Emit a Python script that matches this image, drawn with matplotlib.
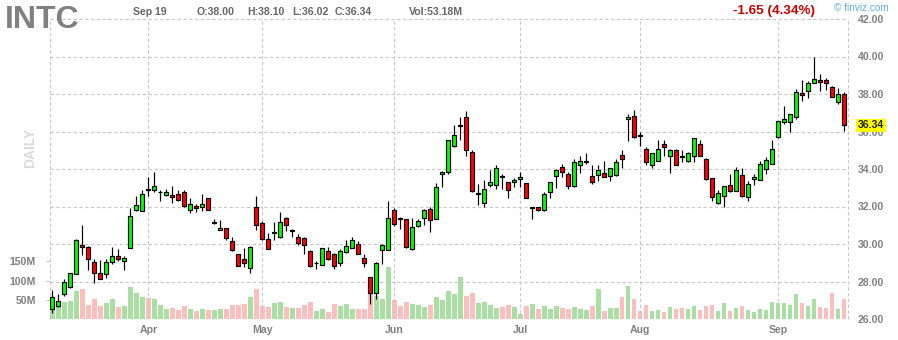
import numpy as np
import pandas as pd
import matplotlib
matplotlib.use("Agg")
import matplotlib.pyplot as plt

plt.rcParams['font.family'] = ['Liberation Sans', 'DejaVu Sans']

TICKER = "INTC"
HOLIDAYS = ["2023-04-07", "2023-05-29", "2023-06-19", "2023-07-04", "2023-09-04"]
dates = pd.bdate_range("2023-03-10", "2023-09-19", freq="C", holidays=HOLIDAYS)

opens = [26.56, 26.72, 27.36, 27.72, 28.38, 29.94, 29.82, 29.02, 28.48, 28.38,
         29.02, 29.34, 29.07, 29.77, 31.83, 31.78, 32.93, 32.86, 32.76, 32.59,
         32.59, 32.65, 32.75, 31.79, 32.01, 31.95, 32.43, 31.13, 30.73, 30.83,
         30.16, 29.46, 29.19, 28.74, 31.95, 31.11, 30.29, 30.59, 30.36, 31.38,
         30.67, 30.35, 30.31, 29.62, 28.97, 28.90, 29.60, 29.49, 29.01, 29.60,
         29.81, 30.02, 29.28, 28.26, 27.41, 29.70, 29.69, 31.79, 31.38, 31.31,
         29.74, 30.98, 31.41, 31.89, 31.36, 33.76, 33.86, 35.25, 36.31, 36.75,
         34.88, 32.66, 32.21, 33.17, 33.17, 33.62, 33.33, 33.33, 33.49, 33.28,
         31.92, 32.00, 31.84, 32.80, 33.65, 34.13, 33.76, 33.12, 34.24, 34.35,
         33.65, 33.70, 33.81, 33.65, 33.70, 34.77, 36.69, 36.85, 35.81, 35.09,
         34.24, 34.45, 35.36, 34.67, 34.99, 34.69, 34.45, 34.67, 35.36, 34.51,
         33.54, 32.21, 32.58, 33.17, 32.85, 33.69, 32.53, 33.48, 33.42, 34.01,
         34.28, 35.72, 36.52, 36.52, 36.79, 38.07, 38.18, 38.61, 38.77, 38.77,
         38.40, 37.59, 38.00]
highs = [27.54, 27.33, 28.13, 28.48, 30.26, 31.01, 29.87, 29.20, 29.14, 29.20,
         29.85, 29.73, 29.34, 31.90, 32.54, 32.88, 33.56, 33.82, 32.86, 32.93,
         33.07, 32.86, 32.86, 32.43, 32.11, 32.65, 32.43, 31.33, 31.28, 30.83,
         30.35, 29.46, 29.81, 29.90, 32.57, 31.23, 30.58, 31.15, 31.70, 31.45,
         30.81, 30.52, 30.40, 29.67, 29.10, 29.81, 29.86, 29.54, 29.72, 30.24,
         30.35, 30.17, 29.49, 28.26, 29.06, 30.02, 32.27, 31.94, 31.46, 31.31,
         31.41, 31.36, 31.89, 32.00, 33.28, 33.92, 35.57, 36.37, 36.75, 37.07,
         35.04, 33.22, 33.44, 33.97, 34.19, 33.76, 33.33, 33.54, 33.86, 33.28,
         32.00, 32.00, 32.80, 33.33, 34.02, 34.29, 33.86, 34.56, 34.67, 34.83,
         34.19, 34.24, 34.45, 34.08, 34.51, 34.99, 36.96, 37.17, 35.95, 35.15,
         34.83, 35.52, 35.52, 35.09, 35.09, 35.04, 34.93, 35.68, 35.57, 34.61,
         33.54, 32.90, 33.12, 33.76, 34.13, 34.06, 33.37, 33.74, 34.44, 34.65,
         35.56, 36.58, 37.38, 36.95, 38.29, 38.77, 38.72, 40.00, 39.09, 38.88,
         38.45, 38.34, 38.10]
lows = [26.30, 26.62, 27.24, 27.67, 28.38, 29.44, 28.64, 27.93, 28.11, 28.20,
        28.91, 29.07, 28.63, 29.77, 31.78, 31.74, 32.54, 32.75, 32.29, 32.54,
        32.17, 32.27, 31.95, 31.63, 31.69, 31.78, 31.79, 31.06, 30.73, 30.19,
        29.61, 28.83, 28.80, 28.48, 30.75, 30.22, 29.74, 30.20, 30.31, 30.70,
        30.40, 29.97, 29.46, 28.80, 28.69, 28.90, 29.14, 28.67, 28.85, 29.54,
        29.81, 29.49, 28.80, 26.82, 27.09, 28.96, 29.69, 30.96, 30.80, 29.79,
        29.68, 30.93, 31.04, 30.66, 31.36, 33.06, 33.76, 35.20, 35.57, 34.67,
        32.80, 32.10, 32.00, 33.06, 32.96, 32.96, 32.44, 33.06, 33.06, 32.48,
        31.36, 31.78, 31.78, 32.48, 33.01, 33.60, 32.96, 33.06, 33.81, 34.29,
        33.22, 33.38, 33.60, 33.38, 33.65, 34.08, 35.47, 35.63, 35.25, 34.24,
        34.08, 34.45, 34.72, 33.81, 34.19, 34.40, 34.35, 34.40, 34.72, 33.44,
        32.32, 32.16, 32.00, 32.80, 32.85, 32.50, 32.28, 33.16, 33.42, 33.74,
        34.28, 35.67, 36.42, 35.99, 36.68, 37.65, 37.81, 38.61, 38.18, 38.24,
        37.86, 37.49, 36.02]
closes = [27.20, 26.94, 28.00, 28.43, 30.21, 29.82, 29.18, 28.43, 28.11, 29.02,
          29.34, 29.18, 29.28, 31.51, 32.06, 32.65, 32.88, 33.07, 32.80, 32.80,
          32.49, 32.33, 32.01, 32.11, 31.90, 32.11, 31.79, 31.17, 30.83, 30.30,
          29.66, 28.85, 29.01, 29.86, 31.04, 30.27, 29.74, 30.63, 31.20, 30.99,
          30.77, 30.08, 29.97, 28.85, 29.01, 29.81, 29.22, 28.85, 29.65, 29.92,
          30.24, 29.49, 29.01, 27.41, 29.01, 29.97, 31.41, 31.09, 31.33, 29.84,
          30.93, 31.25, 31.79, 31.30, 33.06, 33.86, 35.57, 35.79, 36.36, 34.99,
          32.85, 32.71, 32.96, 33.33, 34.08, 33.58, 32.90, 33.44, 33.60, 32.48,
          31.96, 31.84, 32.69, 33.28, 33.97, 33.86, 33.12, 34.35, 34.45, 34.45,
          33.33, 33.97, 33.60, 34.08, 34.35, 34.51, 36.80, 35.73, 35.77, 34.35,
          34.83, 35.09, 35.20, 34.99, 34.24, 34.65, 34.88, 35.63, 34.72, 33.49,
          32.53, 32.74, 33.12, 32.85, 33.97, 32.57, 33.21, 33.58, 34.28, 34.49,
          35.08, 36.58, 36.68, 36.95, 38.13, 37.97, 38.56, 38.82, 38.66, 38.61,
          37.86, 37.99, 36.34]
# volume in millions of shares
volumes = [57, 44, 44, 46, 72, 77, 36, 51, 33, 41,
           51, 31, 33, 82, 67, 56, 54, 51, 36, 26,
           28, 23, 33, 26, 21, 26, 23, 23, 26, 26,
           36, 36, 38, 56, 77, 33, 31, 41, 44, 31,
           28, 28, 36, 44, 21, 26, 18, 38, 33, 38,
           26, 26, 26, 66, 60, 51, 134, 49, 33, 44,
           38, 36, 31, 36, 56, 49, 72, 64, 108, 61,
           67, 41, 44, 36, 28, 31, 36, 31, 13, 33,
           38, 26, 33, 26, 33, 28, 26, 31, 26, 23,
           33, 77, 21, 28, 28, 56, 87, 51, 21, 36,
           21, 23, 18, 31, 26, 28, 26, 33, 23, 33,
           36, 21, 41, 21, 28, 34, 24, 19, 26, 24,
           44, 42, 42, 37, 65, 42, 34, 52, 32, 29,
           67, 26, 53.18]

price_ticks = [26, 28, 30, 32, 34, 36, 38, 40, 42]
vol_ticks = [50, 100, 150]

GRID = "#c8c8c8"
LABEL = "#808080"
DASH = (0, (3, 2.2))

o = np.array(opens)
h = np.array(highs)
l = np.array(lows)
c = np.array(closes)
x = np.arange(len(dates))
up = c >= o

body_col = np.where(up, "#00ff00", "#ff0000")
vol_col = np.where(up, "#a9dfa3", "#ffbebe")

fig = plt.figure(figsize=(8.98, 3.40), dpi=100)
ax = fig.add_axes([50 / 898, 21 / 340, 798.3 / 898, 300 / 340])
axv = ax.twinx()
ax.set_zorder(axv.get_zorder() + 1)
ax.patch.set_visible(False)

# volume (bottom layer)
axv.bar(x, volumes, width=0.8, color=vol_col, linewidth=0)
axv.set_ylim(0, 780)
axv.yaxis.set_ticks_position("left")
axv.set_yticks(vol_ticks)
axv.set_yticklabels([f"{v}M" for v in vol_ticks])
axv.tick_params(axis="y", length=3, width=0.8, color=GRID, pad=7,
                labelsize=7.6, labelcolor=LABEL)
for lbl in axv.get_yticklabels():
    lbl.set_fontweight("bold")

# grid
for lvl in price_ticks[1:]:
    ax.axhline(lvl, color=GRID, lw=0.8, linestyle=DASH, zorder=0, clip_on=False)

month_start = [i for i in range(1, len(dates)) if dates[i].month != dates[i - 1].month]
for m in month_start:
    ax.axvline(m, color=GRID, lw=0.8, linestyle=DASH, zorder=0)

ax.set_xlim(-0.4, len(dates) - 1 + 0.72)
ax.set_ylim(price_ticks[0], price_ticks[-1])
for edge in ax.get_xlim():
    ax.axvline(edge, color=GRID, lw=0.8, linestyle=DASH, zorder=0, clip_on=False)

# candles
ax.vlines(x, l, h, color="black", lw=0.85, zorder=2)
ax.bar(x, np.maximum(np.abs(c - o), 0.015), bottom=np.minimum(o, c), width=0.65,
       color=body_col, edgecolor="black", linewidth=0.85, zorder=3)

ax.yaxis.tick_right()
ax.set_yticks(price_ticks)
ax.set_yticklabels([f"{p:.2f}" for p in price_ticks])
ax.tick_params(axis="y", length=0, pad=7, labelsize=7.6, labelcolor=LABEL)
ax.set_xticks(month_start)
ax.set_xticklabels([dates[m].strftime("%b") for m in month_start])
ax.tick_params(axis="x", length=0, pad=4, labelsize=7.6, labelcolor=LABEL)
for lbl in ax.get_yticklabels() + ax.get_xticklabels():
    lbl.set_fontweight("bold")

for a in (ax, axv):
    for s in a.spines.values():
        s.set_visible(False)

# last price tag
ax.annotate(f"{closes[-1]:.2f}", xy=(1, closes[-1]), xycoords=("axes fraction", "data"),
            xytext=(6.8, 0), textcoords="offset points", ha="left", va="center",
            fontsize=7.6, fontweight="bold", color="#222222", zorder=10,
            bbox=dict(boxstyle="square,pad=0.15", fc="#ffff00", ec="none"))

# header
W, H = 898, 340
fig.text(5 / W, 1 - 28 / H, TICKER, fontsize=23, fontweight="bold", color="#808080", va="baseline")
fig.text(30 / W, 1 - 148 / H, "DAILY", rotation=90, fontsize=10, fontweight="bold",
         color="#dadada", ha="center", va="center")

last = dates[-1]
fig.text(133 / W, 1 - 15 / H, f"{last.strftime('%b')} {last.day}", fontsize=7.6,
         fontweight="bold", color="#666666", va="baseline")
fig.text(197 / W, 1 - 15 / H, f"O:{opens[-1]:.2f}", fontsize=7.6, fontweight="bold", color="#666666", va="baseline")
fig.text(247 / W, 1 - 15 / H, f"H:{highs[-1]:.2f}", fontsize=7.6, fontweight="bold", color="#666666", va="baseline")
fig.text(292 / W, 1 - 15 / H, f"L:{lows[-1]:.2f}", fontsize=7.6, fontweight="bold", color="#666666", va="baseline")
fig.text(335 / W, 1 - 15 / H, f"C:{closes[-1]:.2f}", fontsize=7.6, fontweight="bold", color="#666666", va="baseline")
fig.text(409 / W, 1 - 15 / H, f"Vol:{volumes[-1]:.2f}M", fontsize=7.6, fontweight="bold", color="#666666", va="baseline")

chg = closes[-1] - closes[-2]
pct = abs(chg) / closes[-2] * 100
fig.text(733 / W, 1 - 14 / H, f"{chg:.2f} ({pct:.2f}%)", fontsize=9.7, fontweight="bold",
         color="#c80000", va="baseline")
fig.text(834 / W, 1 - 11 / H, "\u00a9 finviz.com", fontsize=7.2, color="#62ade6", va="baseline")

fig.savefig("out.png", dpi=100)
